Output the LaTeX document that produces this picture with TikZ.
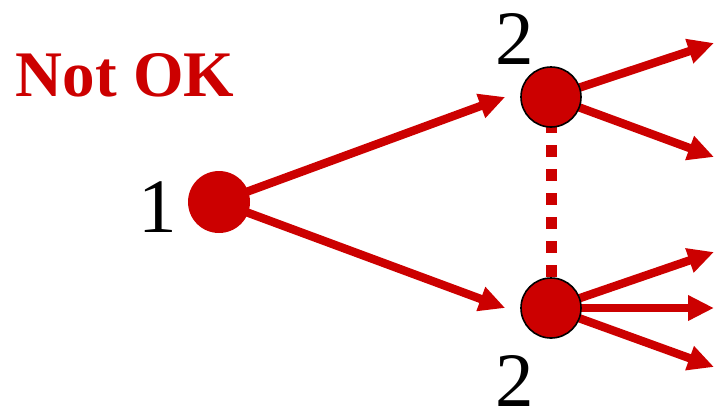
\documentclass[tikz,border=0pt]{standalone}
\usepackage{fontspec}
\setmainfont{Liberation Serif}
\usetikzlibrary{arrows.meta,backgrounds}
\definecolor{darkred}{RGB}{204,0,0}

\begin{document}
\begin{tikzpicture}[x=0.5pt,y=-0.5pt,
  vertex/.style={circle,fill=darkred,inner sep=0pt,minimum size=30pt},
  edge/.style={-{Triangle[length=13pt,width=12pt]},line width=4.2pt,darkred},
  num/.style={inner sep=0pt,font=\fontsize{38.5}{40}\selectfont}]
\useasboundingbox (0,0) rectangle (716,414);

\node [vertex,minimum size=31pt] (v1) at (219,202) {};
\node [vertex,draw=black,line width=0.8pt] (v2) at (551,97) {};
\node [vertex,draw=black,line width=0.8pt] (v3) at (551,308) {};

\node [num] (l1) at (158,207) {1};
\node [num] (l2) at (515,39) {2};
\node [num] (l3) at (515,381) {2};
\node [inner sep=0pt,text=darkred,font=\bfseries\fontsize{32.5}{34}\selectfont] (title) at (125,75) {Not OK};

\coordinate (o1) at (714,43);
\coordinate (o2) at (714,157);
\coordinate (o3) at (714,252);
\coordinate (o4) at (714,308);
\coordinate (o5) at (714,367);

\begin{pgfonlayer}{background}
\draw [edge] (v1.center) -- ([xshift=-7.5pt]v2.west);
\draw [edge] (v1.center) -- ([xshift=-7.5pt]v3.west);
\draw [edge] (v2.center) -- (o1);
\draw [edge] (v2.center) -- (o2);
\draw [edge] (v3.center) -- (o3);
\draw [edge] (v3.center) -- (o4);
\draw [edge] (v3.center) -- (o5);
\draw [-,darkred,line width=5.5pt,dash pattern=on 6pt off 6pt] (v2.center) -- (v3.center);
\end{pgfonlayer}

\end{tikzpicture}
\end{document}
